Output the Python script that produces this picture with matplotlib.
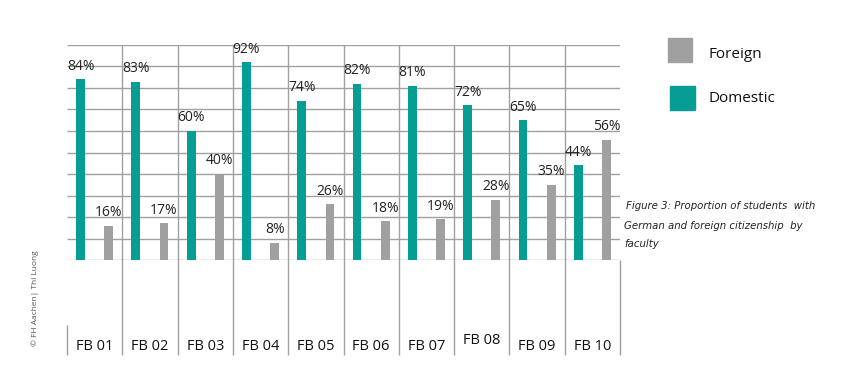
import numpy as np
import matplotlib.pyplot as plt

plt.rcParams['font.family'] = ['Open Sans', 'DejaVu Sans']

faculties = ["FB 01", "FB 02", "FB 03", "FB 04", "FB 05",
             "FB 06", "FB 07", "FB 08", "FB 09", "FB 10"]
domestic = [84, 83, 60, 92, 74, 82, 81, 72, 65, 44]
foreign = [16, 17, 40, 8, 26, 18, 19, 28, 35, 56]

teal = "#069e94"
grey = "#a0a0a0"
line = "#a0a0a0"

fig = plt.figure(figsize=(8.5, 3.89), dpi=100)
ax = fig.add_axes([67/850, 1 - 260/389, (620-67)/850, (260-45)/389])

x = np.arange(len(faculties))
w = 0.16
ax.bar(x - 0.255, domestic, w, color=teal, zorder=3)
ax.bar(x + 0.255, foreign, w, color=grey, zorder=3)

for xi, d, f in zip(x, domestic, foreign):
    ax.annotate(f"{d}%", (xi - 0.255, d), xytext=(0, 4), textcoords="offset points",
                ha="center", va="bottom", fontsize=10, color="#222222")
    ax.annotate(f"{f}%", (xi + 0.255, f), xytext=(0, 4), textcoords="offset points",
                ha="center", va="bottom", fontsize=10, color="#222222")

# horizontal grid
ax.hlines(np.arange(0, 101, 10), -0.5, 9.5, color=line, lw=1, zorder=1)
# category separators, running down into the label area
ax.vlines(x[:-1] + 0.5, -44, 100, color=line, lw=1, clip_on=False, zorder=1)
ax.vlines(9.5, -44, 0, color=line, lw=1, clip_on=False)
ax.vlines(-0.5, -44, -30, color=line, lw=1, clip_on=False)

for xi, name in zip(x, faculties):
    dy = 2.5 if name == "FB 08" else 0
    ax.text(xi, -40 + dy, name, ha="center", va="center", fontsize=10.5,
            color="#111111", clip_on=False)

ax.set_xlim(-0.5, 9.5)
ax.set_ylim(0, 100)
ax.axis("off")

# legend
fig.patches.append(plt.Rectangle((668/850, 1 - 62/389), 24/850, 24/389,
                                 transform=fig.transFigure, color=grey))
fig.patches.append(plt.Rectangle((670/850, 1 - 110/389), 25/850, 24/389,
                                 transform=fig.transFigure, color=teal))
fig.text(708/850, 1 - 55/389, "Foreign", fontsize=11, va="center", color="#111111")
fig.text(708/850, 1 - 99/389, "Domestic", fontsize=11, va="center", color="#111111")

# caption
cap = dict(fontsize=7.3, style="italic", va="center", color="#222222",
           family="DejaVu Sans")
fig.text(626/850, 1 - 206/389, "Figure 3: Proportion of students  with", **cap)
fig.text(624/850, 1 - 226/389, "German and foreign citizenship  by", **cap)
fig.text(624/850, 1 - 244/389, "faculty", **cap)

fig.text(35/850, 1 - 298/389, "© FH Aachen| Thi Luong", rotation=90,
         fontsize=6, ha="center", va="center", color="#555555")

fig.savefig("out.png", dpi=100)
